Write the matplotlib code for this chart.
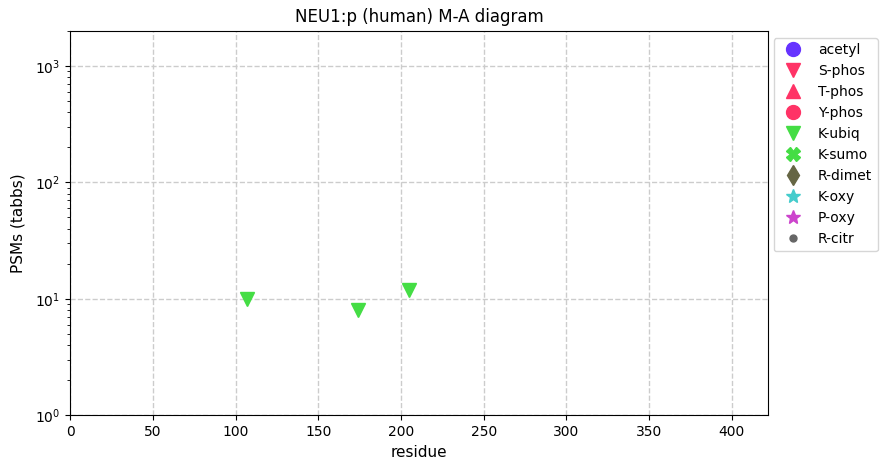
import numpy as np
import matplotlib.pyplot as plt

ptms = ["acetyl", "S-phos", "T-phos", "Y-phos", "K-ubiq", "K-sumo", "R-dimet", "K-oxy", "P-oxy", "R-citr"]
markers = ["o", "v", "^", "o", "v", "X", "d", "*", "*", "."]
colors = ["#6633ff", "#ff3366", "#ff3366", "#ff3366", "#44dd44", "#44dd44", "#666644", "#44cccc", "#cc44cc", "#666666"]

# observed sites (only K-ubiq present)
kubiq_res = [107, 174, 205]
kubiq_psm = [10, 8, 12]

fig, ax = plt.subplots(figsize=(8.89, 4.74), dpi=100)
for p, m, c in zip(ptms, markers, colors):
    if p == "K-ubiq":
        ax.plot(kubiq_res, kubiq_psm, linestyle="none", marker=m, color=c, markersize=10, label=p)
    else:
        ax.plot([], [], linestyle="none", marker=m, color=c, markersize=10, label=p)

ax.set_yscale("log")
ax.set_ylim(1, 2000)
ax.set_xlim(0, 422)
ax.grid(True, linestyle="--", color="#cccccc", linewidth=1)
ax.set_axisbelow(True)
ax.set_xlabel("residue", fontsize=11)
ax.set_ylabel("PSMs (tabbs)", fontsize=11, labelpad=7)
ax.set_title("NEU1:p (human) M-A diagram", fontsize=12)
ax.legend(loc="upper left", bbox_to_anchor=(0.998, 1.0), fontsize=10)
plt.subplots_adjust(left=0.079, right=0.864, top=0.935, bottom=0.124)
plt.savefig("out.png")
